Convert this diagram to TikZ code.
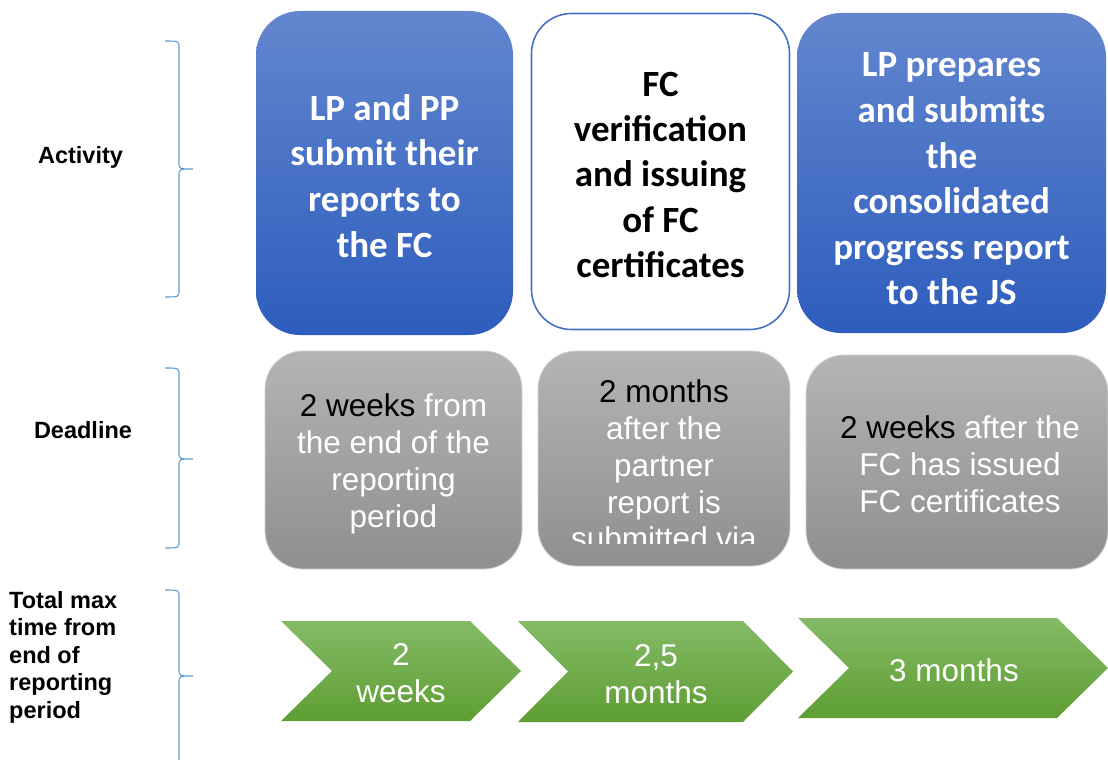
\documentclass[tikz,border=0pt]{standalone}
\usepackage{fontspec}
\setmainfont{Liberation Sans}
\newfontfamily\calib{Carlito}
\usetikzlibrary{shadings}
\definecolor{bluetop}{HTML}{6386CE}
\definecolor{bluebot}{HTML}{2D5DBD}
\definecolor{blueline}{HTML}{4472C4}
\definecolor{graytop}{HTML}{B4B4B4}
\definecolor{graybot}{HTML}{8F8F8F}
\definecolor{greentop}{HTML}{84BA66}
\definecolor{greenbot}{HTML}{5E9E33}
\definecolor{bracecol}{HTML}{5B9BD5}
\newcommand\bracepath[3]{%
  \draw[bracecol, line width=1.1pt]
    (165,#1) .. controls (179,#1) .. (179,#1+7) -- (179,#2-7)
    .. controls (179,#2) .. (193,#2)
    .. controls (179,#2) .. (179,#2+7) -- (179,#3-7)
    .. controls (179,#3) .. (165,#3);}
\begin{document}
\begin{tikzpicture}[x=1pt,y=-1pt,
  lbl/.style={font=\fontsize{23.5}{27.5}\selectfont\bfseries, inner sep=0pt},
  actbox/.style={rounded corners=44pt, inner sep=0pt, top color=bluetop, bottom color=bluebot,
     text=white, align=center, font=\calib\bfseries\fontsize{37}{45.8}\selectfont},
  whitebox/.style={rounded corners=40pt, inner sep=0pt, fill=white, draw=blueline, line width=1.6pt,
     text=black, align=center, font=\calib\bfseries\fontsize{37}{45.2}\selectfont},
  graybox/.style={rounded corners=38pt, inner sep=0pt, top color=graytop, bottom color=graybot, draw=gray!35, line width=0.8pt},
  graytext/.style={text=white, align=center, inner sep=0pt, font=\fontsize{31.5}{36.8}\selectfont},
  chev/.style={top color=greentop, bottom color=greenbot},
  chevtext/.style={text=white, align=center, inner sep=0pt, font=\fontsize{31.5}{37}\selectfont}
]
\useasboundingbox (0,0) rectangle (1108,760);

% braces
\bracepath{41}{169}{297}
\bracepath{368}{459}{548}
\bracepath{590}{676}{790}

% row labels
\node[lbl] (lact) at (80.5,157) {Activity};
\node[lbl] (ldead) at (83,430) {Deadline};
\node[lbl, anchor=west, align=left] (ltot) at (9,657) {Total max\\time from\\end of\\reporting\\period};

% activity boxes
\node[actbox, minimum width=257pt, minimum height=324pt] (a1) at (384.5,173) {};
\node[text=white, align=center, inner sep=0pt, font=\calib\bfseries\fontsize{37}{45.8}\selectfont] (a1t) at (384.5,176) {LP and PP\\submit their\\reports to\\the FC};
\node[whitebox, minimum width=258pt, minimum height=316pt] (a2) at (660.5,171.5) {};
\node[text=black, align=center, inner sep=0pt, font=\calib\bfseries\fontsize{37}{45.2}\selectfont] (a2t) at (660.5,175) {FC\\verification\\and issuing\\of FC\\certificates};
\node[actbox, minimum width=309pt, minimum height=320pt] (a3) at (951.5,173) {};
\node[text=white, align=center, inner sep=0pt, font=\calib\bfseries\fontsize{37}{45.6}\selectfont] (a3t) at (951.5,179) {LP prepares\\and submits\\the\\consolidated\\progress report\\to the JS};

% deadline boxes
\node[graybox, minimum width=257pt, minimum height=218pt] (d1) at (393.5,460) {};
\node[graytext] (d1t) at (393.5,464) {{\color{black}2 weeks} from\\the end of the\\reporting\\period};
\node[graybox, minimum width=252pt, minimum height=215pt] (d2) at (664,458.5) {};
\begin{scope}
  \clip (538,350) rectangle (790,543);
  \node[graytext] (d2t) at (664,465) {{\color{black}2 months}\\after the\\partner\\report is\\submitted via};
\end{scope}
\node[graybox, minimum width=302pt, minimum height=214pt] (d3) at (957,462) {};
\node[graytext] (d3t) at (960,464) {{\color{black}2 weeks} after the\\FC has issued\\FC certificates};

% total time chevrons
\shade[chev] (281,621) coordinate (c1a) -- (470,621) -- (521,671) -- (470,721) -- (281,721) -- (332,671) -- cycle;
\node[chevtext] (t1) at (401,673) {2\\weeks};
\shade[chev] (518,621) coordinate (c2a) -- (743,621) -- (793,671.5) -- (743,722) -- (518,722) -- (568,671.5) -- cycle;
\node[chevtext] (t2) at (656,674) {2,5\\months};
\shade[chev] (798,618) coordinate (c3a) -- (1057,618) -- (1108,668) -- (1057,718) -- (798,718) -- (849,668) -- cycle;
\node[chevtext] (t3) at (954,670) {3 months};
\end{tikzpicture}
\end{document}
